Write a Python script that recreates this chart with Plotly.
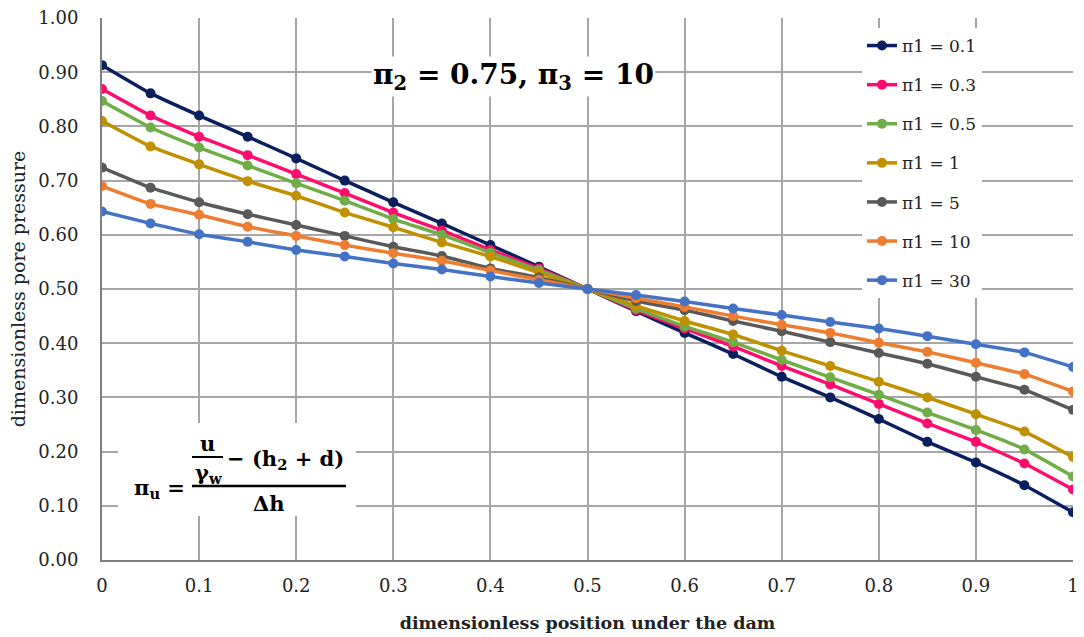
import plotly.graph_objects as go

x_pos = [0, 0.05, 0.1, 0.15, 0.2, 0.25, 0.3, 0.35, 0.4, 0.45, 0.5,
         0.55, 0.6, 0.65, 0.7, 0.75, 0.8, 0.85, 0.9, 0.95, 1]

pi1_01 = [0.913, 0.861, 0.820, 0.781, 0.741, 0.700, 0.660, 0.621, 0.581, 0.541, 0.500,
          0.459, 0.419, 0.380, 0.338, 0.300, 0.260, 0.218, 0.180, 0.138, 0.088]
pi1_03 = [0.869, 0.820, 0.781, 0.747, 0.712, 0.677, 0.641, 0.608, 0.572, 0.538, 0.500,
          0.461, 0.427, 0.394, 0.358, 0.324, 0.288, 0.252, 0.218, 0.178, 0.130]
pi1_05 = [0.847, 0.798, 0.761, 0.728, 0.695, 0.663, 0.629, 0.600, 0.567, 0.535, 0.500,
          0.464, 0.431, 0.402, 0.369, 0.337, 0.305, 0.272, 0.240, 0.204, 0.154]
pi1_1 = [0.810, 0.763, 0.730, 0.699, 0.672, 0.641, 0.614, 0.586, 0.560, 0.530, 0.500,
         0.469, 0.441, 0.416, 0.386, 0.358, 0.329, 0.300, 0.269, 0.237, 0.190]
pi1_5 = [0.724, 0.687, 0.660, 0.638, 0.618, 0.598, 0.578, 0.561, 0.538, 0.521, 0.500,
         0.478, 0.461, 0.441, 0.422, 0.402, 0.382, 0.362, 0.338, 0.314, 0.277]
pi1_10 = [0.690, 0.657, 0.637, 0.615, 0.598, 0.581, 0.566, 0.552, 0.534, 0.517, 0.500,
          0.483, 0.467, 0.450, 0.434, 0.419, 0.401, 0.384, 0.364, 0.343, 0.311]
pi1_30 = [0.643, 0.621, 0.601, 0.587, 0.572, 0.560, 0.547, 0.536, 0.523, 0.511, 0.500,
          0.489, 0.477, 0.464, 0.452, 0.439, 0.427, 0.413, 0.398, 0.383, 0.356]

series_names = ["π1 = 0.1", "π1 = 0.3", "π1 = 0.5", "π1 = 1", "π1 = 5", "π1 = 10", "π1 = 30"]
series_values = [pi1_01, pi1_03, pi1_05, pi1_1, pi1_5, pi1_10, pi1_30]
series_colors = ["#0b1f5e", "#ff0d6e", "#70ad47", "#bf9000", "#595959", "#ed7d31", "#4472c4"]

y_ticks = [0, 0.1, 0.2, 0.3, 0.4, 0.5, 0.6, 0.7, 0.8, 0.9, 1.0]

SERIF = "DejaVu Serif"

fig = go.Figure()
for name, vals, col in zip(series_names, series_values, series_colors):
    fig.add_trace(go.Scatter(
        x=x_pos, y=vals, name=name, mode="lines+markers",
        legendgroup=name,
        line=dict(color=col, width=3.5, shape="spline", smoothing=0.4),
        marker=dict(color=col, size=10),
    ))

def px2x(px):
    return (px - 102) / 971.0

def px2y(py):
    return (560 - py) / 542.0

shapes = [
    dict(type="rect", xref="x", yref="y", x0=px2x(118), x1=px2x(356), y0=px2y(516), y1=px2y(423),
         fillcolor="white", line=dict(width=0), layer="above"),
    dict(type="line", xref="x", yref="y", x0=px2x(192), x1=px2x(346), y0=px2y(486), y1=px2y(486),
         line=dict(color="black", width=2.5), layer="above"),
    dict(type="line", xref="x", yref="y", x0=px2x(192), x1=px2x(223), y0=px2y(457), y1=px2y(457),
         line=dict(color="black", width=2), layer="above"),
]

mfont = dict(family=SERIF, size=21, color="black")
annotations = [
    dict(text="<b>π<sub>2</sub> = 0.75, π<sub>3</sub> = 10</b>", xref="x", yref="y",
         x=px2x(513), y=px2y(76), showarrow=False, bgcolor="white",
         font=dict(family=SERIF, size=28, color="black")),
    dict(text="<b>π<sub>u</sub> =</b>", xref="x", yref="y", x=px2x(187), y=px2y(488),
         xanchor="right", showarrow=False, font=mfont),
    dict(text="<b>Δh</b>", xref="x", yref="y", x=px2x(269), y=px2y(503),
         showarrow=False, font=mfont),
    dict(text="<b>u</b>", xref="x", yref="y", x=px2x(207), y=px2y(443),
         showarrow=False, font=mfont),
    dict(text="<b>γ<sub>w</sub></b>", xref="x", yref="y", x=px2x(208), y=px2y(473),
         showarrow=False, font=mfont),
    dict(text="<b>− (h<sub>2</sub> + d)</b>", xref="x", yref="y", x=px2x(225), y=px2y(459),
         xanchor="left", showarrow=False, font=mfont),
]

fig.update_layout(
    width=1084, height=637,
    margin=dict(l=102, r=11, t=18, b=77),
    paper_bgcolor="white", plot_bgcolor="white",
    showlegend=True,
    legend=dict(x=px2x(862), y=px2y(28), xanchor="left", yanchor="top",
                bgcolor="white", borderwidth=0, tracegroupgap=14,
                font=dict(family=SERIF, size=17, color="#222")),
    xaxis=dict(range=[0, 1], dtick=0.1, tick0=0, showgrid=True, gridcolor="#a6a6a6", gridwidth=1.5,
               showline=True, linecolor="#7f7f7f", linewidth=2, zeroline=False,
               ticks="", ticklabelstandoff=8, automargin=False,
               tickfont=dict(family=SERIF, size=18, color="#222"),
               title=dict(text="<b>dimensionless position under the dam</b>", standoff=22,
                          font=dict(family=SERIF, size=17.5, color="#222"))),
    yaxis=dict(range=[0, 1], tickvals=y_ticks, tickformat=".2f", showgrid=True,
               gridcolor="#a6a6a6", gridwidth=1.5,
               showline=True, linecolor="#7f7f7f", linewidth=2, zeroline=False,
               ticks="", ticklabelstandoff=18, automargin=False,
               tickfont=dict(family=SERIF, size=18, color="#222"),
               title=dict(text="dimensionless pore pressure", standoff=8,
                          font=dict(family=SERIF, size=19, color="#222"))),
    shapes=shapes,
    annotations=annotations,
)

fig.write_html("out.html")
